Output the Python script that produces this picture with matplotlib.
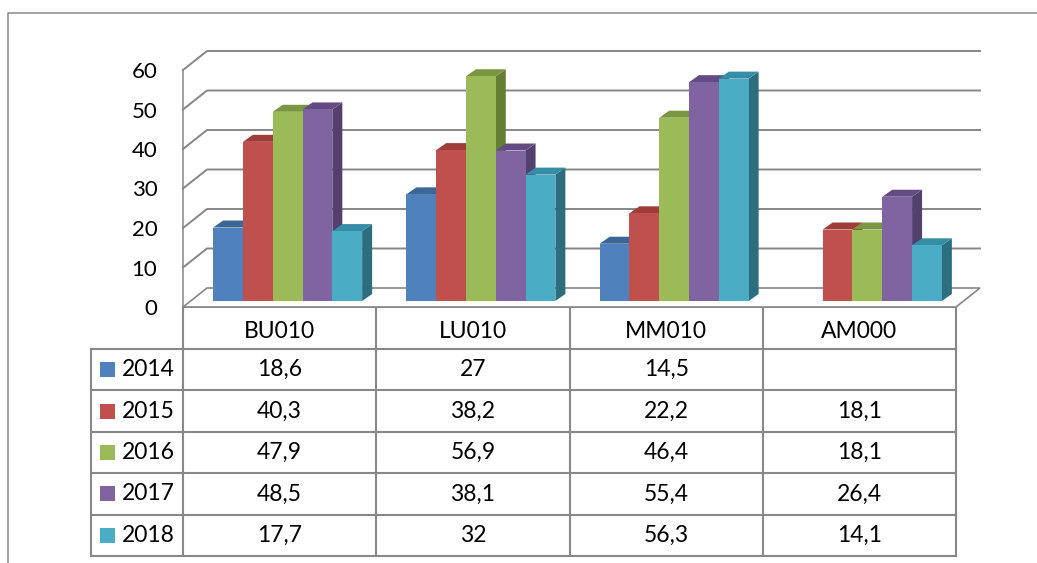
import matplotlib.pyplot as plt
from matplotlib.patches import Polygon, Rectangle

plt.rcParams['font.family'] = ['Lato', 'DejaVu Sans']

# data
categories = ['BU010', 'LU010', 'MM010', 'AM000']
years = ['2014', '2015', '2016', '2017', '2018']
v2014 = [18.6, 27, 14.5, None]
v2015 = [40.3, 38.2, 22.2, 18.1]
v2016 = [47.9, 56.9, 46.4, 18.1]
v2017 = [48.5, 38.1, 55.4, 26.4]
v2018 = [17.7, 32, 56.3, 14.1]
series = [v2014, v2015, v2016, v2017, v2018]
y_ticks = [0, 10, 20, 30, 40, 50, 60]

front_colors = ['#4F81BD', '#C0504D', '#9BBB59', '#8064A2', '#4BACC6']
top_colors = ['#3B6798', '#9E3D3A', '#7A9640', '#634C83', '#358DA6']
side_colors = ['#2F5380', '#82302E', '#667E33', '#54406F', '#2D6E7E']

grid_col = '#868686'
line_col = '#888888'

W, H = 1037, 563
fig = plt.figure(figsize=(W / 100, H / 100), dpi=100)

# page layer in pixel coordinates (frame + data table)
page = fig.add_axes([0, 0, 1, 1])
page.set_xlim(0, W)
page.set_ylim(H, 0)
page.axis('off')

# front plane of the 3D chart
X0, X1 = 183, 956
Y0, Y1 = 307, 70
ax = fig.add_axes([X0 / W, 1 - Y0 / H, (X1 - X0) / W, (Y0 - Y1) / H])
ax.set_xlim(0, len(categories))
ax.set_ylim(0, 60)
for s in ax.spines.values():
    s.set_visible(False)
ax.set_xticks([])
ax.set_yticks(y_ticks)
ax.tick_params(axis='y', length=0, pad=18.5, labelsize=16)
ax.patch.set_alpha(0)

px_x = (X1 - X0) / len(categories)
px_y = (Y0 - Y1) / 60.0


def shift(dx, dy):
    # pixel offset (right, up) -> data units
    return dx / px_x, dy / px_y


# back wall, side wall and floor
wx, wy = shift(24, 19)
nc = len(categories)
floor = Polygon([(0, 0), (nc, 0), (nc + wx, wy), (wx, wy)], closed=True,
                facecolor='white', edgecolor=grid_col, lw=1.2, clip_on=False, zorder=1)
ax.add_patch(floor)
for v in y_ticks[1:]:
    ax.plot([0, wx, nc + wx], [v, v + wy, v + wy], color=grid_col, lw=1.4,
            clip_on=False, zorder=1)
ax.plot([0, 0], [0, 60], color=grid_col, lw=1.1, clip_on=False, zorder=1)

# bars
bw = 29.8 / px_x
ox, oy = shift(8, 6)
ddx, ddy = shift(10, 7)
z = 3
for i, cat in enumerate(categories):
    left0 = i + 0.5 - 2.5 * bw + ox
    for j, vals in enumerate(series):
        v = vals[i]
        if v is None:
            continue
        xl = left0 + j * bw
        xr = xl + bw
        top = oy + v
        side = Polygon([(xr, oy), (xr + ddx, oy + ddy), (xr + ddx, top + ddy), (xr, top)],
                       closed=True, facecolor=side_colors[j], lw=0, clip_on=False, zorder=z)
        cap = Polygon([(xl, top), (xr, top), (xr + ddx, top + ddy), (xl + ddx, top + ddy)],
                      closed=True, facecolor=top_colors[j], lw=0, clip_on=False, zorder=z)
        ax.add_patch(side)
        ax.add_patch(cap)
        ax.bar(xl, v, width=bw, bottom=oy, align='edge', color=front_colors[j],
               lw=0, clip_on=False, zorder=z + 0.05)
        z += 0.1

# data table
fs = 16.5
col_edges = [X0 + k * px_x for k in range(nc + 1)]
head_top, head_bot, tab_bot = 307, 349, 556
row_h = (tab_bot - head_bot) / len(years)
leg_left = 91

lk = dict(color=line_col, lw=1.5, solid_capstyle='projecting')
page.plot([col_edges[0], col_edges[-1]], [head_top, head_top], color=grid_col, lw=1.2)
for xe in col_edges:
    page.plot([xe, xe], [head_top, tab_bot], **lk)
for r in range(len(years) + 1):
    yy = head_bot + r * row_h
    page.plot([leg_left, col_edges[-1]], [yy, yy], **lk)
page.plot([leg_left, leg_left], [head_bot, tab_bot], **lk)

for i, cat in enumerate(categories):
    cx = (col_edges[i] + col_edges[i + 1]) / 2
    page.text(cx, (head_top + head_bot) / 2 + 4, cat, ha='center', va='center', fontsize=fs)

for j, (yr, vals) in enumerate(zip(years, series)):
    cy = head_bot + (j + 0.5) * row_h
    page.add_patch(Rectangle((100, cy - 7.5), 15, 15, facecolor=front_colors[j], lw=0))
    page.text(122, cy, yr, ha='left', va='center', fontsize=fs)
    for i, v in enumerate(vals):
        if v is None:
            continue
        cx = (col_edges[i] + col_edges[i + 1]) / 2
        page.text(cx, cy, f'{v:g}'.replace('.', ','), ha='center', va='center', fontsize=fs)

# outer chart frame
page.plot([8, 8, W + 5], [H + 5, 13, 13], color=line_col, lw=1.1)

fig.savefig('out.png', dpi=100)
